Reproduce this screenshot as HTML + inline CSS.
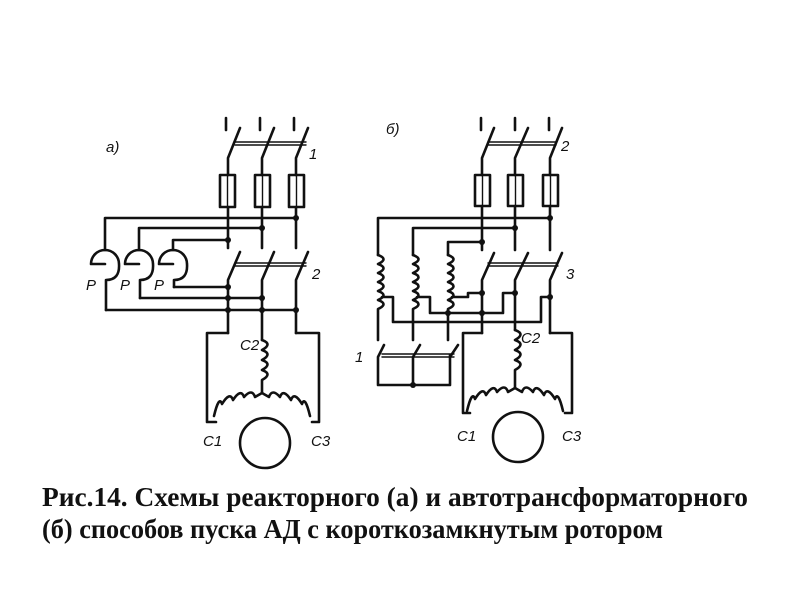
<!DOCTYPE html>
<html><head><meta charset="utf-8"><style>html,body{margin:0;padding:0;background:#fff}svg{display:block}</style></head>
<body>
<svg width="800" height="600" viewBox="0 0 800 600" xmlns="http://www.w3.org/2000/svg">
<g fill="none" stroke="#111" stroke-width="2.6" stroke-linecap="round" stroke-linejoin="round">
<path d="M226,118V130 M260,118V130 M294,118V130"/>
<path d="M240,128L228,158V175 M274,128L262,158V175 M308,128L296,158V175"/>
<path d="M235,142H306 M235,145H306" stroke-width="1.4"/>
<rect x="220" y="175" width="15" height="32"/><rect x="255" y="175" width="15" height="32"/><rect x="289" y="175" width="15" height="32"/>
<path d="M227.5,175V207 M262.5,175V207 M296.5,175V207" stroke-width="1.4"/>
<path d="M228,207V248 M262,207V248 M296,207V248"/>
<path d="M296,218H105V250 M262,228H139V250 M228,240H173V250"/>
<path d="M91,264A14,14 0 0 1 119,264 Q120,280 106,280 V310 M91,264H105"/>
<path d="M125,264A14,14 0 0 1 153,264 Q154,280 140,280 V298 M125,264H139"/>
<path d="M159,264A14,14 0 0 1 187,264 Q188,280 174,280 V287 M159,264H173"/>
<path d="M106,310H296 M140,298H262 M174,287H228"/>
<path d="M240,252L228,280V333 M274,252L262,280V340 M308,252L296,280V333"/>
<path d="M235,263H306 M235,266H306" stroke-width="1.4"/>
<path d="M228,333H207V422H216 M296,333H319V422H312"/>
<path d="M262,340 q11,4 0,10 q11,4 0,10 q11,4 0,10 q11,4 0,10 V393"/>
<path d="M262,393 L255,397 q-3,-9 -11,0 q-3,-9 -11,3 q-3,-9 -11,4 q-3,-9 -8,12"/>
<path d="M262,393 L269,397 q3,-9 11,0 q3,-9 11,3 q3,-9 11,4 q3,-9 8,12"/>
<circle cx="265" cy="443" r="25"/>
<!-- b -->
<path d="M481,118V130 M515,118V130 M549,118V130"/>
<path d="M494,128L482,158V175 M528,128L515,158V175 M562,128L550,158V175"/>
<path d="M488,142H556 M488,145H556" stroke-width="1.4"/>
<rect x="475" y="175" width="15" height="31"/><rect x="508" y="175" width="15" height="31"/><rect x="543" y="175" width="15" height="31"/>
<path d="M482.5,175V206 M515.5,175V206 M550.5,175V206" stroke-width="1.4"/>
<path d="M482,206V250 M515,206V250 M550,206V250"/>
<path d="M550,218H378V255 M515,228H413V255 M482,242H448V255"/>
<path d="M378,255 q11,4 0,9 q11,4 0,9 q11,4 0,9 q11,4 0,9 q11,4 0,9 q11,4 0,9 V340"/>
<path d="M413,255 q11,4 0,9 q11,4 0,9 q11,4 0,9 q11,4 0,9 q11,4 0,9 q11,4 0,9 V340"/>
<path d="M448,255 q11,4 0,9 q11,4 0,9 q11,4 0,9 q11,4 0,9 q11,4 0,9 q11,4 0,9 V340"/>
<path d="M382,297H393V322H541V297H550"/>
<path d="M417,297H430V313H503V293H515"/>
<path d="M452,297H468V293H482"/>
<path d="M494,253L482,280V333 M528,253L515,280V330 M562,253L550,280V333"/>
<path d="M488,263H558 M488,266H558" stroke-width="1.4"/>
<path d="M384,345L378,357V385H450V355 M420,345L413,357V385 M458,345L450,357"/>
<path d="M382,354H454 M382,357H454" stroke-width="1.4"/>
<path d="M482,333H463V413H470 M550,333H572V413H565"/>
<path d="M515,330 q11,4 0,10 q11,4 0,10 q11,4 0,10 q11,4 0,10 V388"/>
<path d="M515,388 L508,392 q-3,-9 -11,0 q-3,-9 -11,3 q-3,-9 -11,4 q-3,-9 -8,12"/>
<path d="M515,388 L522,392 q3,-9 11,0 q3,-9 11,3 q3,-9 11,4 q3,-9 8,12"/>
<circle cx="518" cy="437" r="25"/>
</g>
<g fill="#111">
<circle cx="296" cy="218" r="3"/><circle cx="262" cy="228" r="3"/><circle cx="228" cy="240" r="3"/>
<circle cx="228" cy="287" r="3"/><circle cx="262" cy="298" r="3"/><circle cx="296" cy="310" r="3"/>
<circle cx="228" cy="310" r="3"/><circle cx="262" cy="310" r="3"/><circle cx="228" cy="298" r="3"/>
<circle cx="550" cy="218" r="3"/><circle cx="515" cy="228" r="3"/><circle cx="482" cy="242" r="3"/>
<circle cx="550" cy="297" r="3"/><circle cx="515" cy="293" r="3"/><circle cx="482" cy="293" r="3"/>
<circle cx="413" cy="385" r="3"/><circle cx="448" cy="313" r="3"/><circle cx="482" cy="313" r="3"/>
</g>
<g font-family="Liberation Sans, sans-serif" font-style="italic" font-size="15" fill="#111">
<text x="106" y="152">а)</text>
<text x="386" y="134">б)</text>
<text x="309" y="159">1</text>
<text x="312" y="279">2</text>
<text x="561" y="151">2</text>
<text x="566" y="279">3</text>
<text x="355" y="362">1</text>
<text x="86" y="290">Р</text><text x="120" y="290">Р</text><text x="154" y="290">Р</text>
<text x="240" y="350">С2</text>
<text x="203" y="446">С1</text><text x="311" y="446">С3</text>
<text x="521" y="343">С2</text>
<text x="457" y="441">С1</text><text x="562" y="441">С3</text>
</g>
<g font-family="Liberation Serif, serif" font-weight="bold" font-size="27" fill="#111">
<text x="42" y="506" textLength="706" lengthAdjust="spacingAndGlyphs">Рис.14. Схемы реакторного (а) и автотрансформаторного</text>
<text x="42" y="538" textLength="621" lengthAdjust="spacingAndGlyphs">(б) способов пуска АД с короткозамкнутым ротором</text>
</g>
</svg>
</body></html>
